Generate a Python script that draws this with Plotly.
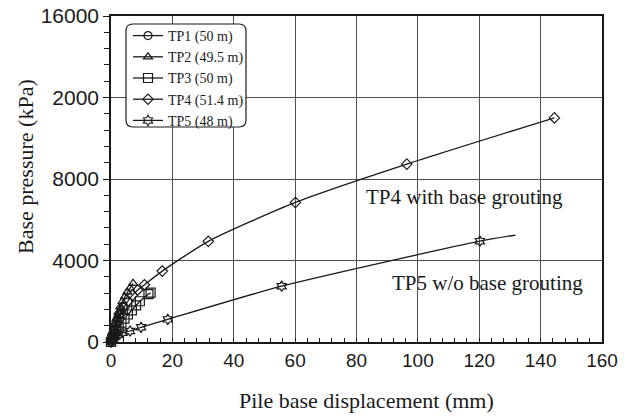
import plotly.graph_objects as go

# ---- data ----
tp1_x = [0.0, 0.2, 0.5, 0.8, 1.2, 1.6, 2.1, 2.7, 3.3, 4.0]
tp1_y = [0, 150, 350, 550, 750, 950, 1150, 1350, 1550, 1750]

tp2_x = [0.0, 0.3, 0.7, 1.2, 1.8, 2.4, 3.0, 3.7, 4.5, 5.3, 6.2, 7.2]
tp2_y = [0, 250, 550, 850, 1150, 1450, 1720, 1980, 2220, 2450, 2650, 2880]

tp3_x = [0.0, 0.4, 1.0, 1.7, 2.5, 3.4, 4.4, 5.5, 6.8, 8.2, 9.4, 12.2, 12.9]
tp3_y = [0, 150, 350, 550, 750, 950, 1150, 1350, 1550, 1800, 2000, 2350, 2420]

tp4_x = [0.0, 0.3, 0.7, 1.2, 1.8, 2.5, 3.3, 4.3, 5.5, 7.0, 8.7, 10.9, 16.7, 31.7, 60.1, 96.4, 144.5]
tp4_y = [0, 150, 350, 600, 850, 1100, 1400, 1700, 2000, 2300, 2550, 2810, 3480, 4940, 6850, 8730, 11000]

tp5_x = [0.0, 0.3, 0.8, 1.5, 2.5, 3.8, 6.2, 9.8, 18.5, 55.6, 120.2, 131.8]
tp5_y = [0, 80, 180, 280, 370, 450, 540, 720, 1110, 2740, 4950, 5250]

names = ["TP1 (50 m)", "TP2 (49.5 m)", "TP3 (50 m)", "TP4 (51.4 m)", "TP5 (48 m)"]

x_ticks = [0, 20, 40, 60, 80, 100, 120, 140, 160]
y_ticks = [0, 4000, 8000, 12000, 16000]
y_ticktext = ["0", "4000", "8000", "2000", "16000"]

annot_texts = ["TP4 with base grouting", "TP5 w/o base grouting"]

# ---- figure ----
INK = "#1a1a1a"
GRID = "#505050"
SERIF = "Liberation Serif, Times New Roman, serif"
SANS = "Liberation Sans, Arial, sans-serif"

W, H = 635, 417
ML, MR, MT, MB = 111, 33, 16, 75
PW, PH = W - ML - MR, H - MT - MB


def px2paper(px, py):
    return (px - ML) / PW, (H - MB - py) / PH


fig = go.Figure()

series = [
    (tp1_x, tp1_y, "circle-open", 8, "linear"),
    (tp2_x, tp2_y, "triangle-up-open", 8, "linear"),
    (tp3_x, tp3_y, "square-open", 9, "linear"),
    (tp4_x, tp4_y, "diamond-open", 8, "spline"),
    (tp5_x, tp5_y, "hexagram-open", 8, "spline"),
]
for (xs, ys, sym, sz, shp), nm in zip(series, names):
    op = [1] * len(xs)
    if nm.startswith("TP5"):
        op[-1] = 0
    fig.add_trace(go.Scatter(
        x=xs, y=ys, name=nm, mode="lines+markers",
        line=dict(color=INK, width=1.3, shape=shp, smoothing=0.6),
        marker=dict(symbol=sym, size=sz, color=INK, opacity=op,
                    line=dict(color=INK, width=1.2)),
        cliponaxis=False,
    ))

# rounded legend frame (pixel box 126..246 x 24..127)
x0, y0, x1, y1, r = 126, 24, 246, 127, 7
def P(px, py):
    a, b = px2paper(px, py)
    return f"{a:.5f},{b:.5f}"
path = (f"M {P(x0 + r, y0)} L {P(x1 - r, y0)} Q {P(x1, y0)} {P(x1, y0 + r)} "
        f"L {P(x1, y1 - r)} Q {P(x1, y1)} {P(x1 - r, y1)} "
        f"L {P(x0 + r, y1)} Q {P(x0, y1)} {P(x0, y1 - r)} "
        f"L {P(x0, y0 + r)} Q {P(x0, y0)} {P(x0 + r, y0)} Z")

fig.update_layout(
    width=W, height=H,
    margin=dict(l=ML, r=MR, t=MT, b=MB, autoexpand=False),
    paper_bgcolor="white", plot_bgcolor="white",
    showlegend=True,
    shapes=[dict(type="path", path=path, xref="paper", yref="paper",
                 fillcolor="white", line=dict(color=INK, width=1.2), layer="above")],
    legend=dict(
        x=px2paper(128, 0)[0], y=px2paper(0, 20)[1], xanchor="left", yanchor="top",
        bgcolor="rgba(0,0,0,0)", borderwidth=0,
        font=dict(family=SERIF, size=14, color=INK),
        itemwidth=30, tracegroupgap=0,
    ),
    xaxis=dict(
        range=[0, 160], tickvals=x_ticks, ticks="inside", ticklen=4, automargin=False,
        tickcolor=INK, showline=True, linecolor=INK, linewidth=1.5, mirror=True,
        showgrid=True, gridcolor=GRID, gridwidth=1.3, zeroline=False,
        tickfont=dict(family=SANS, size=19, color=INK),
        minor=dict(dtick=4, ticks="inside", ticklen=4, tickcolor=INK, showgrid=False),
    ),
    yaxis=dict(
        range=[0, 16000], tickvals=y_ticks, ticktext=y_ticktext, ticks="outside",
        automargin=False,
        ticklen=6, tickcolor=INK, showline=True, linecolor=INK, linewidth=1.5,
        mirror=True, showgrid=True, gridcolor=GRID, gridwidth=1.3, zeroline=False,
        tickfont=dict(family=SANS, size=21, color=INK),
        minor=dict(dtick=800, ticks="outside", ticklen=5, tickcolor=INK, showgrid=False),
    ),
)

fig.add_annotation(x=115.3, y=7100, xref="x", yref="y", text=annot_texts[0],
                   xanchor="center", yanchor="middle",
                   showarrow=False, font=dict(family=SERIF, size=21, color=INK))
fig.add_annotation(x=122.6, y=2900, xref="x", yref="y", text=annot_texts[1],
                   xanchor="center", yanchor="middle",
                   showarrow=False, font=dict(family=SERIF, size=21, color=INK))

# axis titles
ax, ay = px2paper(366, 400)
fig.add_annotation(x=ax, y=ay, xref="paper", yref="paper",
                   xanchor="center", yanchor="middle",
                   text="Pile base displacement (mm)", showarrow=False,
                   font=dict(family=SERIF, size=22, color=INK))
bx, by = px2paper(25, 167)
fig.add_annotation(x=bx, y=by, xref="paper", yref="paper", textangle=-90,
                   xanchor="center", yanchor="middle",
                   text="Base pressure (kPa)", showarrow=False,
                   font=dict(family=SERIF, size=22, color=INK))

fig.write_html("out.html")
